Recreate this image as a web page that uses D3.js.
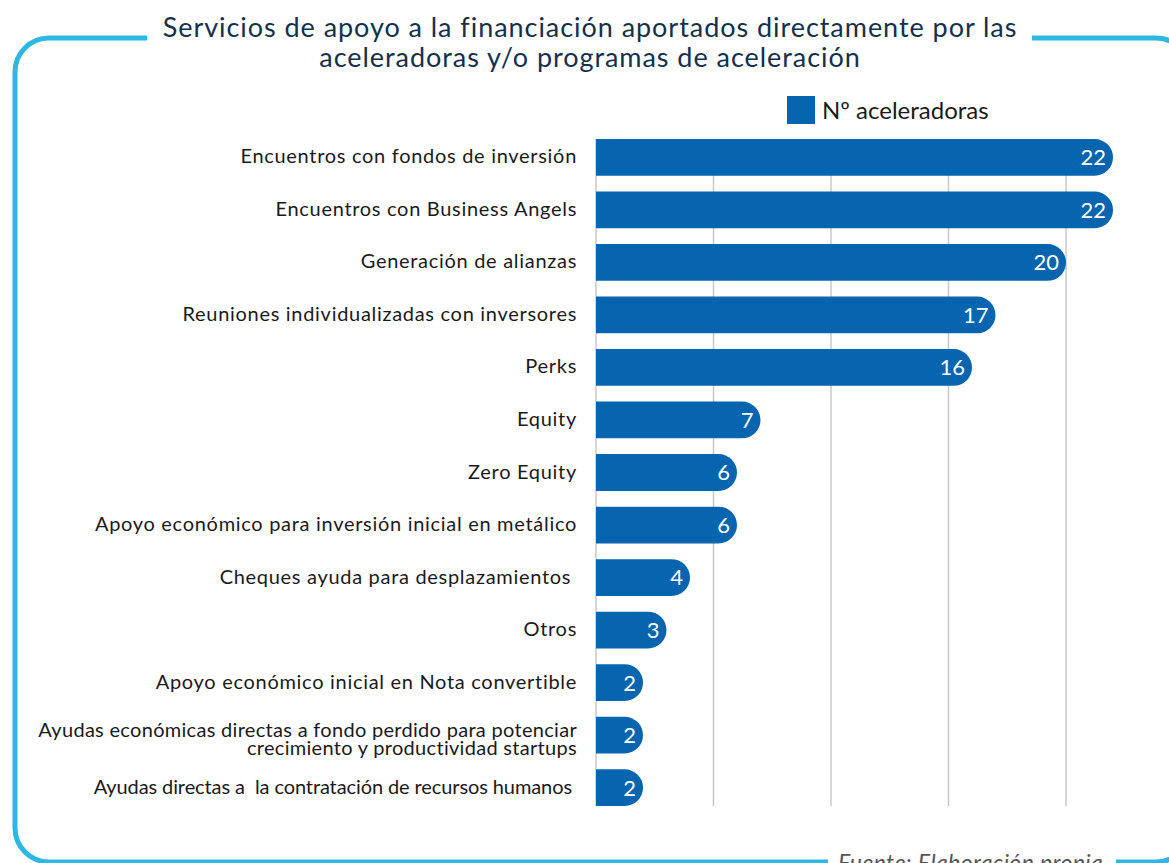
<!DOCTYPE html>
<html>
<head>
<meta charset="utf-8">
<script src="https://cdn.jsdelivr.net/npm/d3@7"></script>
<style>
  html, body { margin: 0; padding: 0; background: #fff; }
  svg { display: block; font-family: Lato, "Open Sans", sans-serif; }
  .lbl { white-space: pre; }
</style>
</head>
<body>
<div id="chart"></div>
<script>
// data
var categories = [
    "Encuentros con fondos de inversión",
    "Encuentros con Business Angels",
    "Generación de alianzas",
    "Reuniones individualizadas con inversores",
    "Perks",
    "Equity",
    "Zero Equity",
    "Apoyo económico para inversión inicial en metálico",
    "Cheques ayuda para desplazamientos ",
    "Otros",
    "Apoyo económico inicial en Nota convertible",
    "Ayudas económicas directas a fondo perdido para potenciar\ncrecimiento y productividad startups",
    "Ayudas directas a  la contratación de recursos humanos "
];
var values = [22, 22, 20, 17, 16, 7, 6, 6, 4, 3, 2, 2, 2];
var gridTicks = [0, 5, 10, 15, 20];
var seriesName = "Nº aceleradoras";
var titleLines = [
    "Servicios de apoyo a la financiación aportados directamente por las",
    "aceleradoras y/o programas de aceleración"
];
var sourceText = "Fuente: Elaboración propia";

var width = 1169;
var height = 863;
var barColor = "#0765B0";
var frameColor = "#2DB8E3";

var svg = d3.select("#chart").append("svg")
    .attr("width", width)
    .attr("height", height);

/* frame */
svg.append("rect")
    .attr("x", 15)
    .attr("y", 38)
    .attr("width", 1175)
    .attr("height", 824)
    .attr("rx", 34)
    .attr("fill", "none")
    .attr("stroke", frameColor)
    .attr("stroke-width", 5);

// white gaps for title and source
svg.append("rect").attr("x", 147).attr("y", 28).attr("width", 885).attr("height", 18).attr("fill", "#fff");
svg.append("rect").attr("x", 828).attr("y", 852).attr("width", 288).attr("height", 14).attr("fill", "#fff");

/* title */
svg.append("text")
    .attr("text-anchor", "middle")
    .attr("fill", "#13304C")
    .style("font-size", "27px")
    .style("letter-spacing", "0.95px")
    .selectAll("tspan")
    .data(titleLines).enter()
    .append("tspan")
    .attr("x", 590)
    .attr("y", (d, i) => 37 + i * 30)
    .text(d => d);

/* scales */
var xScale = d3.scaleLinear()
    .domain([0, 25])
    .range([596, 596 + 587.5]);

var yScale = d3.scaleBand()
    .domain(categories)
    .range([131, 814])
    .paddingInner(0.3)
    .paddingOuter(0.152);

var bw = yScale.bandwidth();

/* grid */
svg.append("g")
    .selectAll("line")
    .data(gridTicks).enter()
    .append("line")
    .attr("x1", d => xScale(d))
    .attr("x2", d => xScale(d))
    .attr("y1", yScale(categories[0]))
    .attr("y2", yScale(categories[categories.length - 1]) + bw)
    .attr("stroke", "#C8C8C8")
    .attr("stroke-width", 1.5);

/* bars with rounded right end */
function barPath(v, y) {
    var x0 = xScale(0), x1 = xScale(v), r = bw / 2;
    var xs = Math.max(x0, x1 - r);
    var p = d3.path();
    p.moveTo(x0, y);
    p.lineTo(xs, y);
    p.arc(xs, y + r, r, -Math.PI / 2, Math.PI / 2);
    p.lineTo(x0, y + bw);
    p.closePath();
    return p.toString();
}

var rows = svg.append("g")
    .selectAll("g")
    .data(categories).enter()
    .append("g");

rows.append("path")
    .attr("d", (d, i) => barPath(values[i], yScale(d)))
    .attr("fill", barColor);

rows.append("text")
    .attr("x", (d, i) => xScale(values[i]) - 7)
    .attr("y", d => yScale(d) + bw / 2)
    .attr("dy", "0.36em")
    .attr("text-anchor", "end")
    .attr("fill", "#fff")
    .style("font-size", "22px")
    .text((d, i) => values[i]);

/* category labels - long ones are set tighter, as in the original */
rows.append("text")
    .attr("class", "lbl")
    .attr("text-anchor", "end")
    .attr("fill", "#1A1A1A")
    .style("font-size", "20px")
    .each(function (d) {
        var lines = d.split("\n");
        var cy = yScale(d) + bw / 2;
        var ls = lines.length > 1 ? "0.3px" : (d.length > 52 ? "-0.1px" : "0.7px");
        var t = d3.select(this).style("letter-spacing", ls);
        lines.forEach(function (ln, k) {
            t.append("tspan")
                .attr("x", 577)
                .attr("y", lines.length > 1 ? cy + 2 + k * 18 : cy + 6)
                .text(ln);
        });
    });

/* legend */
svg.append("rect")
    .attr("x", 787)
    .attr("y", 96)
    .attr("width", 28)
    .attr("height", 28)
    .attr("fill", barColor);

svg.append("text")
    .attr("x", 822)
    .attr("y", 119)
    .attr("fill", "#1A1A1A")
    .style("font-size", "24px")
    .text(seriesName);

/* source */
svg.append("text")
    .attr("x", 838)
    .attr("y", 871)
    .attr("fill", "#555")
    .style("font-size", "23px")
    .style("font-style", "italic")
    .style("letter-spacing", "0.4px")
    .text(sourceText);
</script>
</body>
</html>
